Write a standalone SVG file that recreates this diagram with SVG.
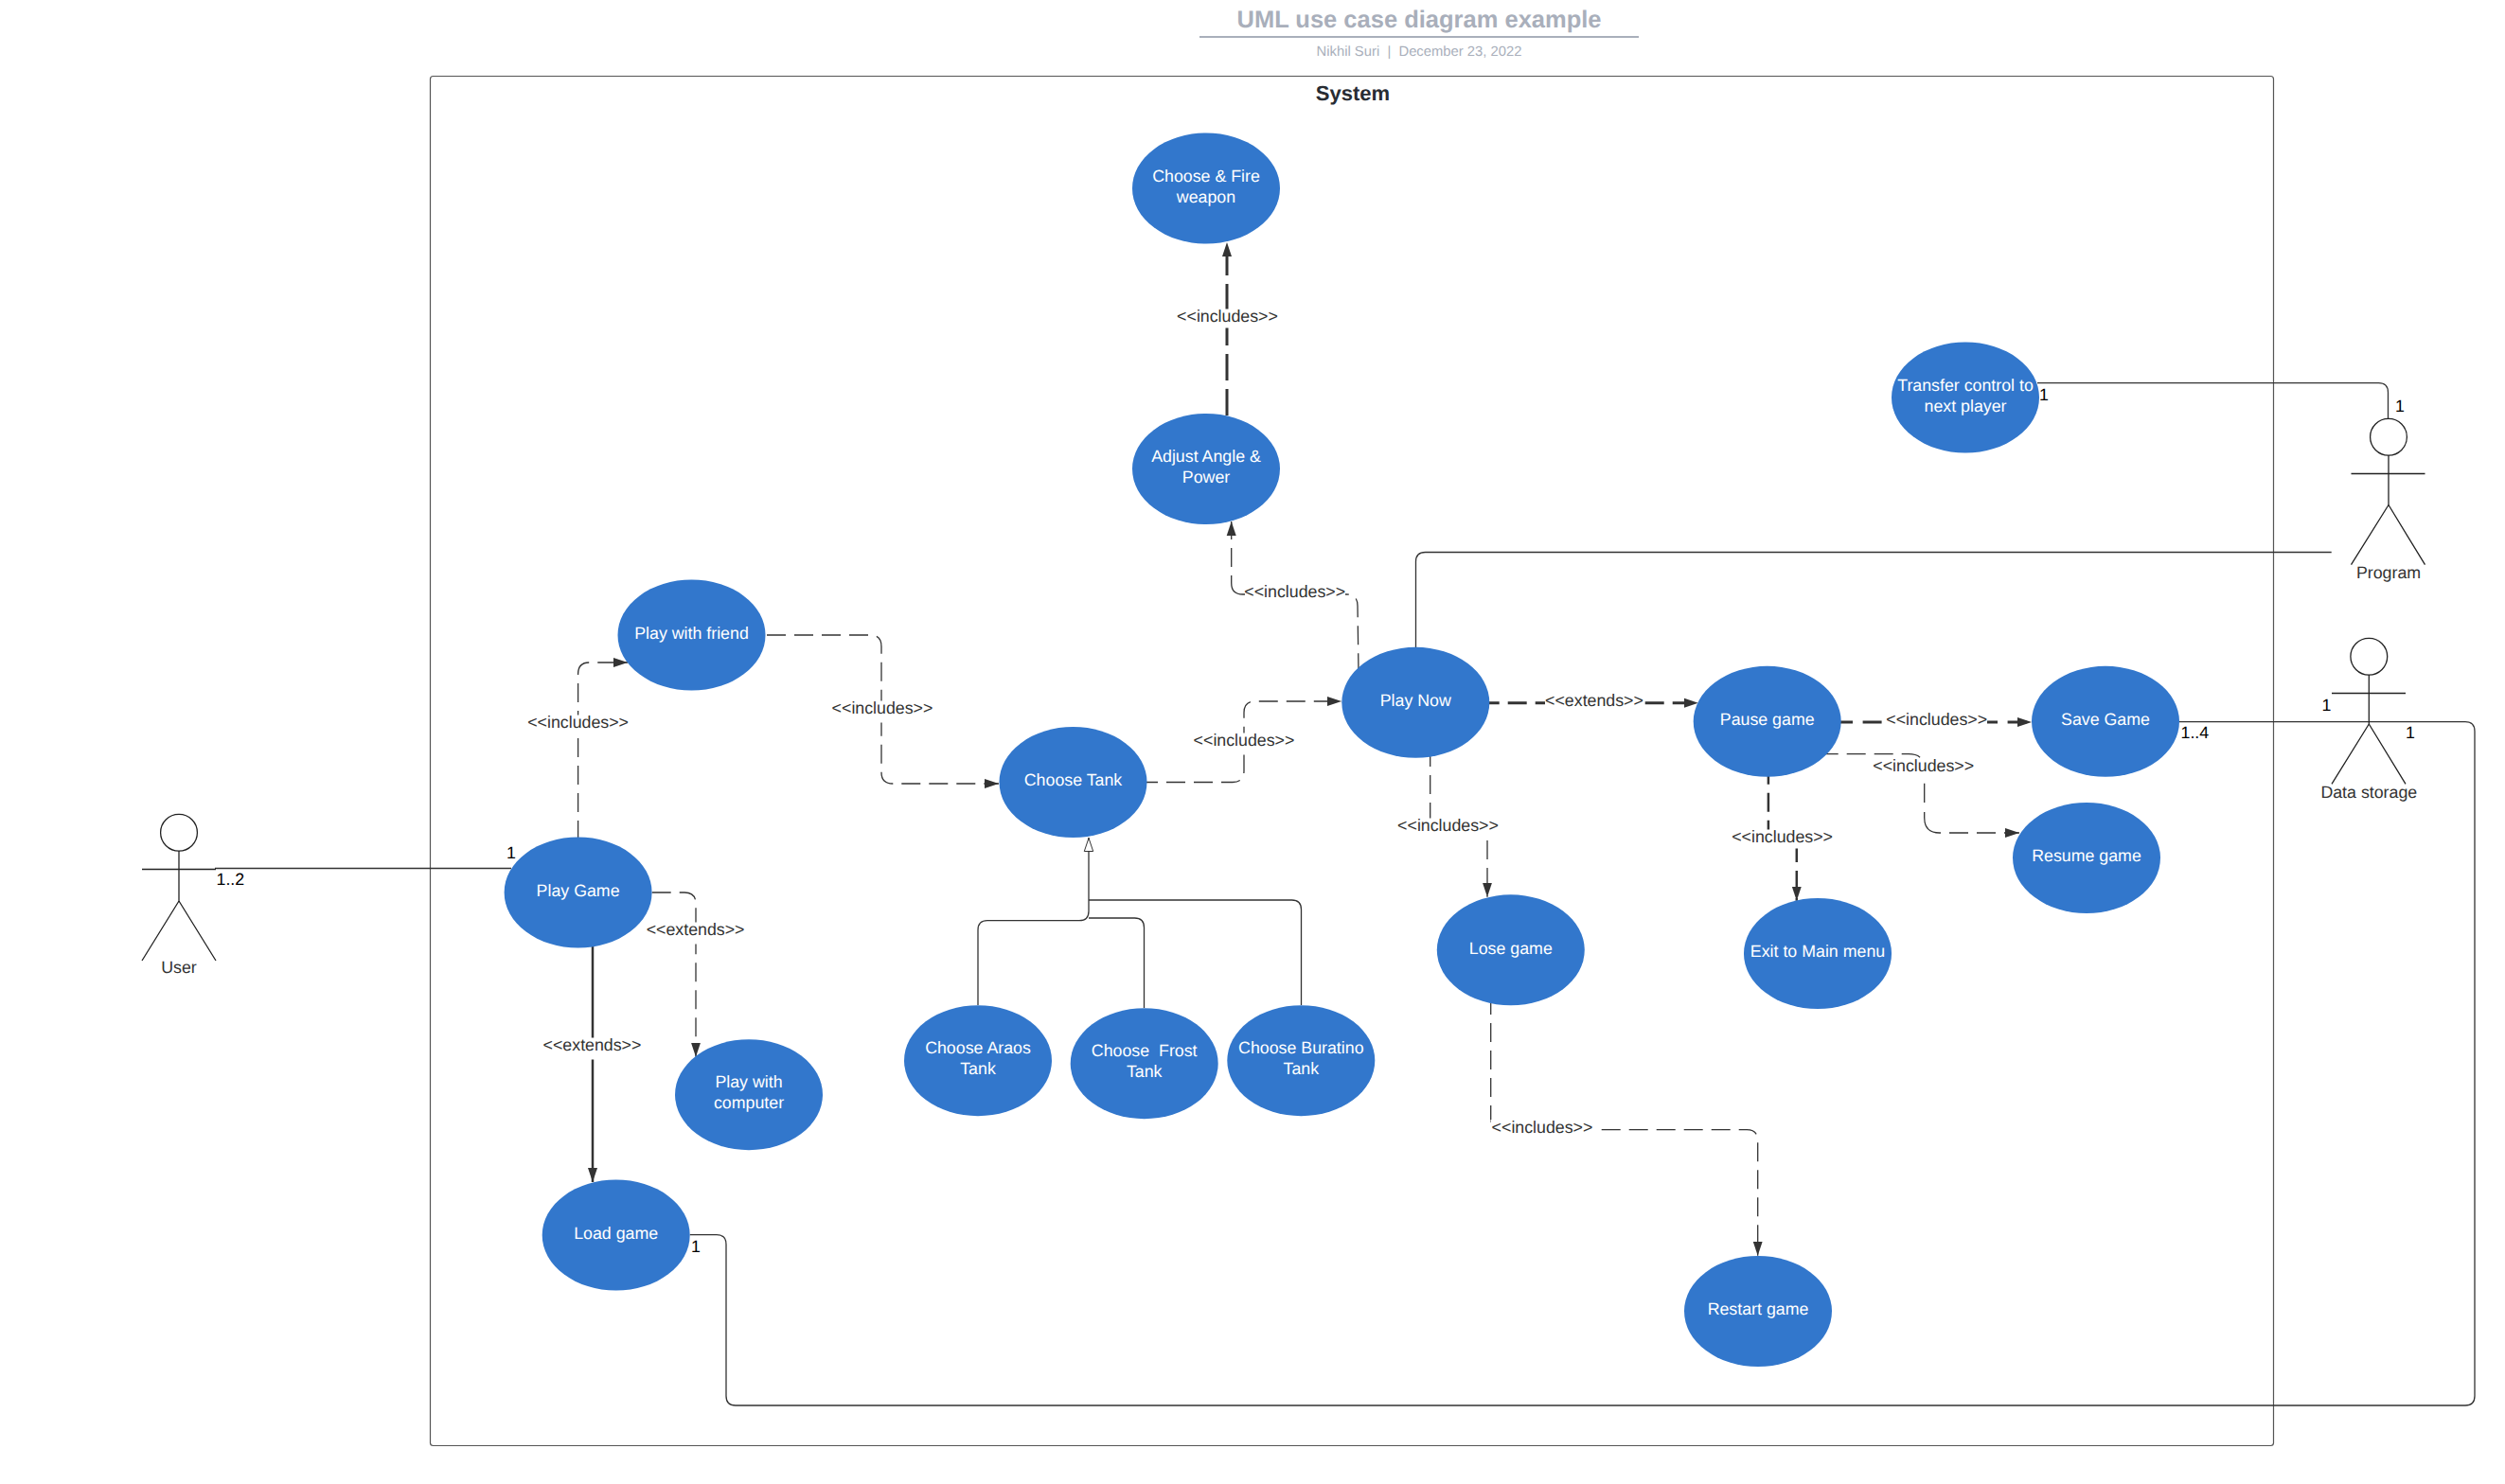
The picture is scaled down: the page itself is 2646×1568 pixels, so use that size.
<svg xmlns="http://www.w3.org/2000/svg" width="2646" height="1568" viewBox="0 0 2646 1568">
<style>
text{font-family:"Liberation Sans",Arial,sans-serif;font-size:17.8px;text-anchor:middle;white-space:pre;text-rendering:geometricPrecision}
.title{font-size:25.5px;font-weight:bold;fill:#a9afbb}
.sub{font-size:14.8px;fill:#a9afbb}
.sys{font-size:22px;font-weight:bold;fill:#282c33}
.uc ellipse{fill:#3277cc}
.uc text{fill:#fff}
.lab{fill:#333}
.mul{fill:#000;text-anchor:start}
.mask{fill:#fff}
.act{fill:none;stroke:#222;stroke-width:1.3}
.act text{fill:#333;stroke:none}
.c{fill:none;stroke:#333;stroke-width:1.3}
.d{stroke-dasharray:20 9}
.a{marker-end:url(#arr)}
.t{stroke-width:3}
.m{stroke-width:2.5}
</style>
<defs>
<marker id="arr" markerUnits="userSpaceOnUse" markerWidth="16" markerHeight="12" refX="15" refY="5.5" orient="auto"><path d="M0 0.5L15 5.5L0 10.5Z" fill="#333"/></marker>
<marker id="gen" markerUnits="userSpaceOnUse" markerWidth="17" markerHeight="13" refX="15.5" refY="6.5" orient="auto"><path d="M1 1.8L15 6.5L1 11.2Z" fill="#fff" stroke="#333" stroke-width="1"/></marker>
</defs>
<rect width="2646" height="1568" fill="#fff"/>
<g id="header">
<text class="title" x="1499" y="29">UML use case diagram example</text>
<rect x="1267" y="38" width="464" height="2" fill="#a9afbb"/>
<text class="sub" x="1499" y="59">Nikhil Suri  |  December 23, 2022</text>
</g>
<g id="system">
<rect x="454.5" y="80.5" width="1947" height="1447" rx="3" fill="none" stroke="#555" stroke-width="1.2"/>
<text class="sys" x="1429" y="106">System</text>
</g>
<g id="connectors">
<path class="c" d="M227 917.5H540"/>
<path class="c" d="M2152 404.7H2512.5Q2522.5 404.7 2522.5 414.7V442"/>
<path class="c" d="M1495.5 684V593.5Q1495.5 583.5 1505.5 583.5H2462.7"/>
<path class="c" d="M2302 762.7H2604Q2614 762.7 2614 772.7V1475Q2614 1485 2604 1485H777Q767 1485 767 1475V1314.7Q767 1304.7 757 1304.7H728.7"/>
<path class="c" d="M1033 1062V982.7Q1033 972.7 1043 972.7H1140Q1150 972.7 1150 962.7V885" marker-end="url(#gen)"/>
<path class="c" d="M1208.5 1065V980Q1208.5 970 1198.5 970H1150"/>
<path class="c" d="M1374.5 1062V961Q1374.5 951 1364.5 951H1150"/>

<path class="c d a" d="M610.6 887V712Q610.6 700 622.6 700H663"/>
<path class="c d a" d="M781 671H919Q931 671 931 683V816Q931 828 943 828H1055"/>
<path class="c d a" d="M1203 826.5H1302Q1314 826.5 1314 814.5V753Q1314 741 1326 741H1417"/>
<path class="c d" d="M1435 710.3L1434 640Q1434 628 1422 628H1400"/>
<path class="c" d="M1316 628H1312.7Q1300.7 628 1300.7 616V608"/>
<path class="c d a" d="M1300.7 599V551"/>
<path class="c t a" style="stroke-dasharray:28 9" d="M1296 439V256"/>
<path class="c t d a" d="M1563.7 742.7H1793.8"/>
<path class="c t a" style="stroke-dasharray:20 10.6" d="M1937 763H2146"/>
<path class="c d" d="M1921.7 796.7H2016Q2032.7 796.7 2032.7 812"/>
<path class="c" d="M2032.7 827.7V848M2032.7 858V864Q2032.7 880 2048.7 880H2050"/>
<path class="c d a" d="M2059 880H2133"/>
<path class="c m d" d="M1867.9 808.7V880"/>
<path class="c m d a" d="M1897.8 891V951.7"/>
<path class="c d" d="M1510.7 790V868"/>
<path class="c d a" d="M1571 888V947.7"/>
<path class="c d" d="M1574.7 1052V1186"/>
<path class="c d a" d="M1691.7 1193.7H1845Q1856.7 1193.7 1856.7 1205V1326.7"/>
<path class="c d a" d="M688.7 943H723Q735 943 735 955V1116.7"/>
<path class="c m a" d="M626 1000V1249"/>

<g id="connector-labels">
<rect class="mask" x="556" y="755.5" width="109" height="23"/><text class="lab" x="610.6" y="769">&lt;&lt;includes&gt;&gt;</text>
<rect class="mask" x="877.5" y="740.5" width="109" height="23"/><text class="lab" x="932" y="754">&lt;&lt;includes&gt;&gt;</text>
<rect class="mask" x="1259.5" y="774.5" width="109" height="23"/><text class="lab" x="1314" y="788">&lt;&lt;includes&gt;&gt;</text>
<rect class="mask" x="1315" y="617.5" width="106" height="23"/><text class="lab" x="1367.7" y="631">&lt;&lt;includes&gt;&gt;</text>
<rect class="mask" x="1242" y="326.5" width="109" height="20"/><text class="lab" x="1296.5" y="340">&lt;&lt;includes&gt;&gt;</text>
<rect class="mask" x="1632" y="732.5" width="105" height="23"/><text class="lab" x="1684" y="746">&lt;&lt;extends&gt;&gt;</text>
<rect class="mask" x="1990.5" y="752.5" width="108.5" height="23"/><text class="lab" x="2045.7" y="766">&lt;&lt;includes&gt;&gt;</text>
<rect class="mask" x="1977" y="801.5" width="109" height="23"/><text class="lab" x="2031.7" y="815">&lt;&lt;includes&gt;&gt;</text>
<rect class="mask" x="1828" y="876.5" width="109" height="20"/><text class="lab" x="1882.6" y="890">&lt;&lt;includes&gt;&gt;</text>
<rect class="mask" x="1475" y="864.5" width="109" height="20"/><text class="lab" x="1529.5" y="878">&lt;&lt;includes&gt;&gt;</text>
<rect class="mask" x="1574.5" y="1183" width="109" height="23"/><text class="lab" x="1629" y="1196.5">&lt;&lt;includes&gt;&gt;</text>
<rect class="mask" x="681.6" y="974.5" width="106" height="23"/><text class="lab" x="734.6" y="988">&lt;&lt;extends&gt;&gt;</text>
<rect class="mask" x="572.5" y="1096.5" width="106" height="23"/><text class="lab" x="625.5" y="1110">&lt;&lt;extends&gt;&gt;</text>
</g>
<g id="multiplicities">
<text class="mul" x="228.5" y="935">1..2</text>
<text class="mul" x="535" y="907">1</text>
<text class="mul" x="2154" y="423">1</text>
<text class="mul" x="2530" y="435">1</text>
<text class="mul" x="2303.5" y="780">1..4</text>
<text class="mul" x="2452.5" y="751">1</text>
<text class="mul" x="2541" y="780">1</text>
<text class="mul" x="730" y="1323">1</text>
</g>
</g>
<g id="choose-fire" class="uc"><ellipse cx="1274" cy="199" rx="78" ry="58.5"/><text x="1274" y="192">Choose &amp; Fire</text><text x="1274" y="213.5">weapon</text></g>
<g id="adjust-angle" class="uc"><ellipse cx="1274" cy="495.5" rx="78" ry="58.5"/><text x="1274" y="488">Adjust Angle &amp;</text><text x="1274" y="509.5">Power</text></g>
<g id="transfer-control" class="uc"><ellipse cx="2076" cy="420" rx="78" ry="58.5"/><text x="2076" y="413">Transfer control to</text><text x="2076" y="434.5">next player</text></g>
<g id="play-friend" class="uc"><ellipse cx="730.5" cy="671" rx="78" ry="58.5"/><text x="730.5" y="674.5">Play with friend</text></g>
<g id="play-now" class="uc"><ellipse cx="1495.3" cy="742.3" rx="78" ry="58.5"/><text x="1495.3" y="746">Play Now</text></g>
<g id="pause-game" class="uc"><ellipse cx="1866.7" cy="762.3" rx="78" ry="58.5"/><text x="1866.7" y="766">Pause game</text></g>
<g id="save-game" class="uc"><ellipse cx="2224" cy="762.3" rx="78" ry="58.5"/><text x="2224" y="766">Save Game</text></g>
<g id="choose-tank" class="uc"><ellipse cx="1133.5" cy="826.5" rx="78" ry="58.5"/><text x="1133.5" y="830">Choose Tank</text></g>
<g id="resume-game" class="uc"><ellipse cx="2204" cy="906.5" rx="78" ry="58.5"/><text x="2204" y="910">Resume game</text></g>
<g id="play-game" class="uc"><ellipse cx="610.6" cy="943" rx="78" ry="58.5"/><text x="610.6" y="946.7">Play Game</text></g>
<g id="lose-game" class="uc"><ellipse cx="1595.8" cy="1003.8" rx="78" ry="58.5"/><text x="1595.8" y="1007.5">Lose game</text></g>
<g id="exit-menu" class="uc"><ellipse cx="1920" cy="1007.5" rx="78" ry="58.5"/><text x="1920" y="1011">Exit to Main menu</text></g>
<g id="choose-araos" class="uc"><ellipse cx="1033" cy="1120.7" rx="78" ry="58.5"/><text x="1033" y="1113.3">Choose Araos</text><text x="1033" y="1135">Tank</text></g>
<g id="choose-frost" class="uc"><ellipse cx="1208.7" cy="1123.7" rx="78" ry="58.5"/><text x="1208.7" y="1116.3">Choose  Frost</text><text x="1208.7" y="1138">Tank</text></g>
<g id="choose-buratino" class="uc"><ellipse cx="1374.3" cy="1120.7" rx="78" ry="58.5"/><text x="1374.3" y="1113.3">Choose Buratino</text><text x="1374.3" y="1135">Tank</text></g>
<g id="play-computer" class="uc"><ellipse cx="791" cy="1156.7" rx="78" ry="58.5"/><text x="791" y="1149">Play with</text><text x="791" y="1171">computer</text></g>
<g id="load-game" class="uc"><ellipse cx="650.7" cy="1305" rx="78" ry="58.5"/><text x="650.7" y="1308.5">Load game</text></g>
<g id="restart-game" class="uc"><ellipse cx="1857" cy="1385.5" rx="78" ry="58.5"/><text x="1857" y="1389">Restart game</text></g>
<g id="actor-user" class="act"><ellipse cx="189" cy="879.7" rx="19.4" ry="19.4"/><path d="M189 899V952M150 918.5H228M189 952L150 1015M189 952L228 1015"/><text x="189" y="1028">User</text></g>
<g id="actor-program" class="act"><ellipse cx="2523" cy="461.7" rx="19.4" ry="19.4"/><path d="M2523 481V533.5M2483.5 500.5H2561.5M2523 533.5L2483.5 596.7M2523 533.5L2561.5 596.7"/><text x="2523" y="611">Program</text></g>
<g id="actor-data" class="act"><ellipse cx="2502.3" cy="693.7" rx="19.4" ry="19.4"/><path d="M2502.3 713V765M2463 732.5H2541M2502.3 765L2463 828.3M2502.3 765L2541 828.3"/><text x="2502.3" y="842.7">Data storage</text></g>
</svg>
